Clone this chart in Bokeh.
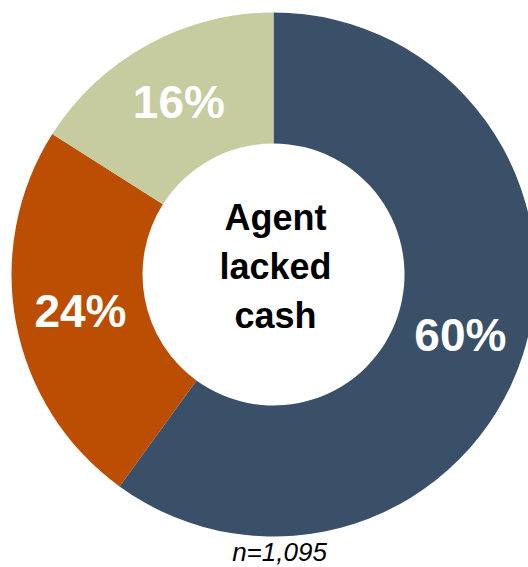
import math
from bokeh.plotting import figure
from bokeh.models import ColumnDataSource, Range1d
from bokeh.core.properties import value
from bokeh.embed import file_html
from bokeh.resources import INLINE

# Data
categories = ["Agent lacked cash (yes)", "Other", "Unknown"]
shares = [60, 24, 16]
labels = ["60%", "24%", "16%"]
colors = ["#3A5068", "#BB4E03", "#C6CBA0"]
center_title = "Agent\nlacked\ncash"
note = "n=1,095"

W, H = 528, 567
CX, CY = 273, H - 274
R_OUT, R_IN = 262, 131

total = sum(shares)
starts, ends, lx, ly = [], [], [], []
cum = 0.0
for s in shares:
    a0 = math.pi / 2 - 2 * math.pi * cum / total
    a1 = math.pi / 2 - 2 * math.pi * (cum + s) / total
    starts.append(a0)
    ends.append(a1)
    mid = (a0 + a1) / 2
    rl = (R_OUT + R_IN) / 2
    lx.append(CX + rl * math.cos(mid))
    ly.append(CY + rl * math.sin(mid))
    cum += s

src = ColumnDataSource(dict(cat=categories, start=starts, end=ends, color=colors,
                            label=labels, lx=lx, ly=ly))

p = figure(width=W, height=H, output_backend="svg", toolbar_location=None,
           x_range=Range1d(0, W), y_range=Range1d(0, H), min_border=0)
p.axis.visible = False
p.grid.visible = False
p.outline_line_color = None
p.background_fill_color = "white"
p.border_fill_color = "white"

p.annular_wedge(x=CX, y=CY, inner_radius=R_IN, outer_radius=R_OUT,
                start_angle="start", end_angle="end", direction="clock",
                fill_color="color", line_color=None, source=src)

p.text(x="lx", y="ly", text="label", source=src, text_color="white",
       text_font=value("Liberation Sans"), text_font_style="bold",
       text_font_size="46px", text_align="center", text_baseline="middle")

p.text(x=[CX + 2], y=[CY + 8], text=[center_title], text_color="black",
       text_font=value("Liberation Sans"), text_font_style="bold",
       text_font_size="36px", text_align="center", text_baseline="middle",
       text_line_height=1.2)

p.text(x=[CX + 6], y=[H - 551], text=[note], text_color="black",
       text_font=value("Liberation Sans"), text_font_style="italic",
       text_font_size="26px", text_align="center", text_baseline="middle")

open("out.html", "w").write(file_html(p, INLINE))
